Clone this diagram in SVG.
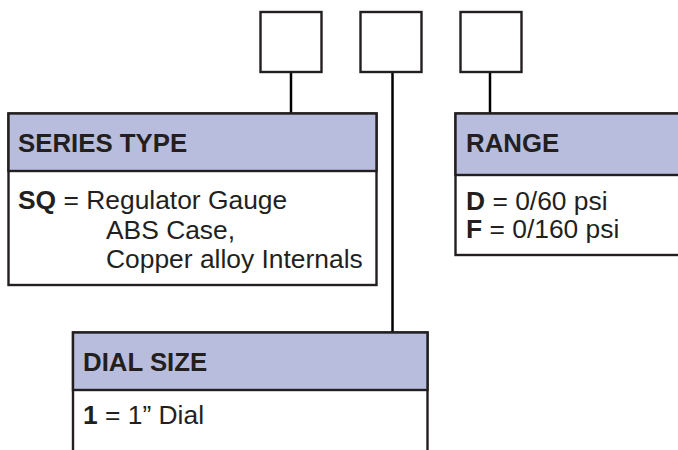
<svg xmlns="http://www.w3.org/2000/svg" width="678" height="450" viewBox="0 0 678 450">
<style>
.box{fill:#fff;stroke:#231f20;stroke-width:2.4}
.hdr{fill:#b9bddd;stroke:#231f20;stroke-width:2.4}
.ln{stroke:#000;stroke-width:2.5;fill:none}
.h{font-family:"Liberation Sans",Arial,sans-serif;font-weight:bold;font-size:25.8px;fill:#231f20}
.t{font-family:"Liberation Sans",Arial,sans-serif;font-size:26.4px;fill:#231f20}
.b{font-weight:bold}
</style>
<rect width="678" height="450" fill="#fff"/>
<g id="connectors">
<line class="ln" x1="291" y1="72" x2="291" y2="114"/>
<line class="ln" x1="392.5" y1="72" x2="392.5" y2="333"/>
<line class="ln" x1="490" y1="72" x2="490" y2="114"/>
</g>
<g id="slot1"><rect class="box" x="260.5" y="12" width="61" height="60"/></g>
<g id="slot2"><rect class="box" x="360.5" y="12" width="61" height="60"/></g>
<g id="slot3"><rect class="box" x="460.5" y="12" width="61" height="60"/></g>
<g id="series-type">
<rect class="box" x="8.5" y="113.5" width="368" height="171.5"/>
<rect class="hdr" x="8.5" y="113.5" width="368" height="57.5"/>
<text class="h" x="18" y="152">SERIES TYPE</text>
<text class="t" x="18" y="209"><tspan class="b">SQ</tspan> = Regulator Gauge</text>
<text class="t" x="106" y="239">ABS Case,</text>
<text class="t" x="106" y="268">Copper alloy Internals</text>
</g>
<g id="range">
<rect class="box" x="455.5" y="113.5" width="240" height="141.5"/>
<rect class="hdr" x="455.5" y="113.5" width="240" height="61.5"/>
<text class="h" x="466" y="152">RANGE</text>
<text class="t" x="466" y="210"><tspan class="b">D</tspan> = 0/60 psi</text>
<text class="t" x="466" y="238"><tspan class="b">F</tspan> = 0/160 psi</text>
</g>
<g id="dial-size">
<rect class="box" x="73" y="332.5" width="354.5" height="140"/>
<rect class="hdr" x="73" y="332.5" width="354.5" height="57.5"/>
<text class="h" x="83" y="371">DIAL SIZE</text>
<text class="t" x="83" y="424"><tspan class="b">1</tspan> = 1” Dial</text>
</g>
</svg>
